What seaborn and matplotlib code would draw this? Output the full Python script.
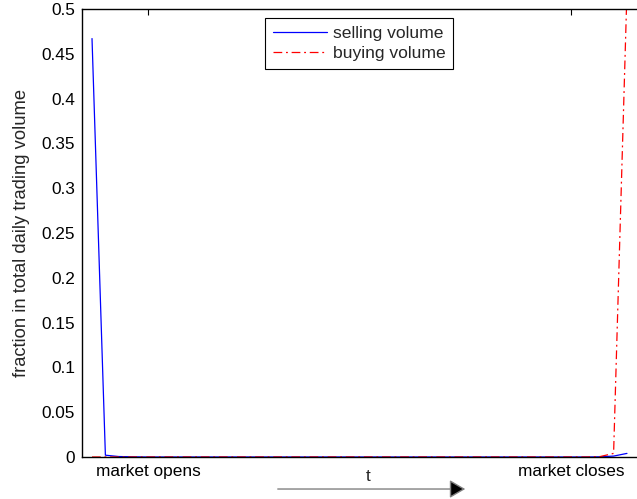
"""
Intraday selling vs buying volume profile
"""
import numpy as np
import pandas as pd
import matplotlib
matplotlib.use("Agg")
import matplotlib.pyplot as plt
import seaborn as sns

# time steps over one trading day
t_steps = list(range(41))

selling_volume = [0.467, 0.002, 0.0005, 0.0002, 0.0, 0.0, 0.0, 0.0, 0.0, 0.0,
                  0.0, 0.0, 0.0, 0.0, 0.0, 0.0, 0.0, 0.0, 0.0, 0.0,
                  0.0, 0.0, 0.0, 0.0, 0.0, 0.0, 0.0, 0.0, 0.0, 0.0,
                  0.0, 0.0, 0.0, 0.0, 0.0, 0.0, 0.0, 0.0, 0.0002, 0.001,
                  0.004]
buying_volume = [0.0, 0.0, 0.0, 0.0, 0.0, 0.0, 0.0, 0.0, 0.0, 0.0,
                 0.0, 0.0, 0.0, 0.0, 0.0, 0.0, 0.0, 0.0, 0.0, 0.0,
                 0.0, 0.0, 0.0, 0.0, 0.0, 0.0, 0.0, 0.0, 0.0, 0.0,
                 0.0, 0.0, 0.0, 0.0, 0.0, 0.0, 0.0, 0.0, 0.0005, 0.004,
                 0.52]

tick_pos = [4.2, 35.8]
tick_labels = ["market opens", "market closes"]
y_ticks = [0, 0.05, 0.1, 0.15, 0.2, 0.25, 0.3, 0.35, 0.4, 0.45, 0.5]

sns.set_style("white")
plt.rcParams['font.family'] = ['Liberation Sans', 'DejaVu Sans']
plt.rcParams['font.size'] = 12.4

df = pd.DataFrame({"t": t_steps, "sell": selling_volume, "buy": buying_volume})

fig = plt.figure(figsize=(6.37, 4.99), dpi=100)
ax = fig.add_axes([0.1287, 0.0842, 0.8713, 0.8978])

sns.lineplot(data=df, x="t", y="sell", ax=ax, color="#0000ff", lw=0.9,
             label="selling volume")
sns.lineplot(data=df, x="t", y="buy", ax=ax, color="#ff0000", lw=0.9,
             linestyle=(0, (7, 3, 1.5, 3)), label="buying volume")

ax.set_xlim(-0.75, 40.75)
ax.set_ylim(0, 0.5)
ax.set_xticks(tick_pos)
ax.set_xticklabels(tick_labels)
ax.set_yticks(y_ticks)
ax.set_yticklabels([f"{v:g}" for v in y_ticks])
ax.set_xlabel("")
ax.set_ylabel("fraction in total daily trading volume", labelpad=8,
              fontsize=13.2)
ax.tick_params(direction="in", top=True, right=False, length=4, width=0.8,
               colors="black", labelsize=12.4, pad=5)
for side in ["left", "bottom", "top"]:
    ax.spines[side].set_color("black")
    ax.spines[side].set_linewidth(1.0)
ax.spines["right"].set_visible(False)

leg = ax.legend(loc="upper center", frameon=True, fancybox=False,
                edgecolor="black", framealpha=1, handlelength=3.05,
                borderaxespad=0.5, labelspacing=0.3, borderpad=0.45,
                handletextpad=0.35, fontsize=12.6)
leg.get_frame().set_linewidth(0.8)

# time arrow below the axis
fig.text(0.578, 0.045, "t", ha="center", va="center", fontsize=12.4)
fig.add_artist(matplotlib.patches.FancyArrowPatch(
    (0.4317, 0.020), (0.7347, 0.020), transform=fig.transFigure,
    arrowstyle="-|>,head_length=6,head_width=3.5", color="0.5",
    fc="black", lw=1.0, mutation_scale=1.6))

fig.savefig("out.png", dpi=100)
